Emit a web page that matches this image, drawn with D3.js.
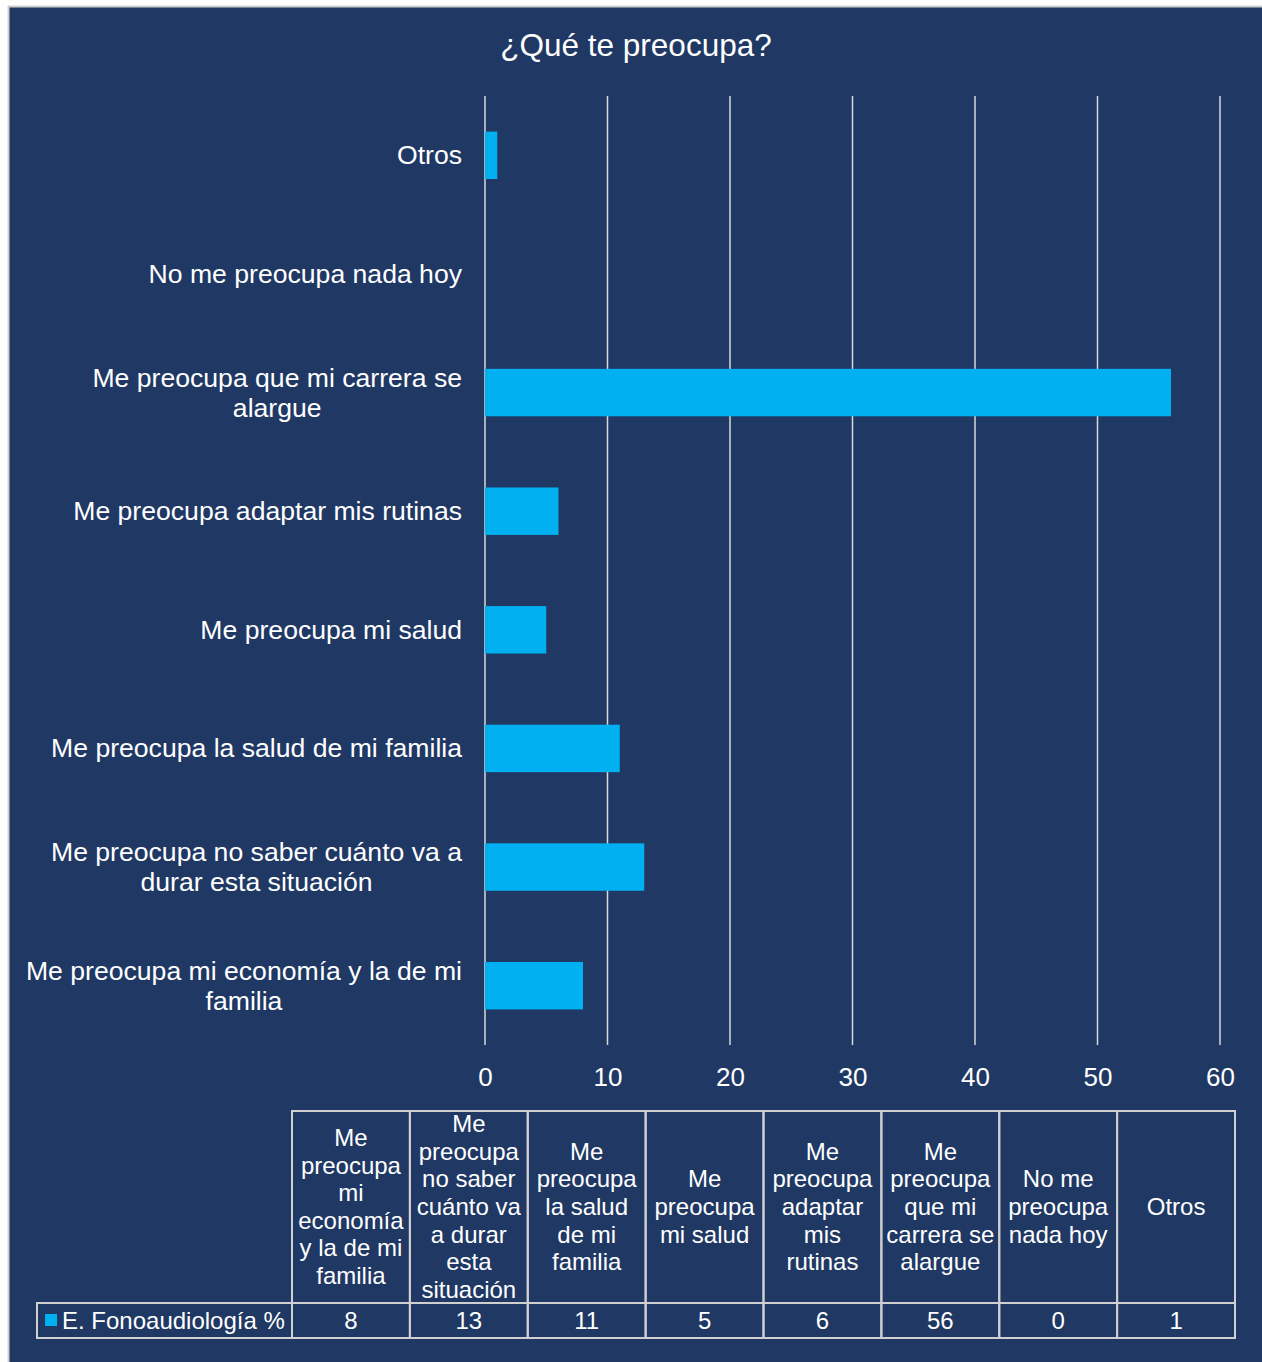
<!DOCTYPE html>
<html><head><meta charset="utf-8">
<script src="https://cdn.jsdelivr.net/npm/d3@7"></script>
<style>body{margin:0;background:#fff}svg{display:block}text{font-family:"Liberation Sans",Arial,sans-serif;fill:#fff}</style>
</head><body><svg id="c" width="1262" height="1362"></svg>
<script>
const categories = ["Me preocupa mi economía y la de mi familia","Me preocupa no saber cuánto va a durar esta situación","Me preocupa la salud de mi familia","Me preocupa mi salud","Me preocupa adaptar mis rutinas","Me preocupa que mi carrera se alargue","No me preocupa nada hoy","Otros"];
const values = [8,13,11,5,6,56,0,1];
const seriesName = "E. Fonoaudiología %";
const xTicks = [0,10,20,30,40,50,60];
const title = "¿Qué te preocupa?";

const svg = d3.select("#c");
const bg = "#203864", barColor = "#00b0f0", grid = "#d9d9d9";
svg.append("rect").attr("x",8.5).attr("y",6.5).attr("width",1262).attr("height",1362).attr("fill",bg).attr("stroke","#cfcfcf").attr("stroke-width",2);

svg.append("text").attr("x",636).attr("y",56).attr("text-anchor","middle").attr("font-size",31.5).text(title);

const x = d3.scaleLinear().domain([0,60]).range([485,1220]);
const y = d3.scaleBand().domain(categories.slice().reverse()).range([96,1045]).paddingInner(0.6).paddingOuter(0.3);

svg.append("g").selectAll("line").data(xTicks).join("line")
  .attr("x1",d=>x(d)).attr("x2",d=>x(d)).attr("y1",96).attr("y2",1045)
  .attr("stroke",grid).attr("stroke-width",1.5);

svg.append("g").selectAll("rect").data(categories.map((c,i)=>({c,v:values[i]}))).join("rect")
  .attr("x",x(0)).attr("y",d=>y(d.c)).attr("width",d=>x(d.v)-x(0)).attr("height",y.bandwidth())
  .attr("fill",barColor);

const xa = svg.append("g").attr("transform","translate(0,1045)").call(d3.axisBottom(x).tickValues(xTicks).tickSize(0).tickPadding(23));
xa.select(".domain").remove();
xa.selectAll("text").attr("font-size",26).attr("fill","#fff").style("font-family","Liberation Sans, Arial, sans-serif");

function measure(s, fs){
  const t = svg.append("text").attr("font-size",fs).attr("visibility","hidden").text(s);
  const w = t.node().getComputedTextLength(); t.remove(); return w;
}
function wrapLines(text, maxW, fs){
  const words = text.split(" "); const lines=[]; let cur="";
  for(const w of words){
    const test = cur? cur+" "+w : w;
    if(measure(test,fs)>maxW && cur){ lines.push(cur); cur=w; } else cur=test;
  }
  if(cur) lines.push(cur);
  return lines;
}

const yfs = 26.6, lh = 30;
categories.forEach(c=>{
  const lines = wrapLines(c, 442, yfs);
  const W = d3.max(lines, l=>measure(l,yfs));
  const cx = 462 - W/2;
  const cy = y(c)+y.bandwidth()/2;
  const t = svg.append("text").attr("text-anchor","middle").attr("font-size",yfs);
  lines.forEach((l,i)=>{
    t.append("tspan").attr("x",cx).attr("y",cy+(i-(lines.length-1)/2)*lh+9).text(l);
  });
});

const colX = d3.scaleBand().domain(categories).range([292,1235]);
const tTop=1111, hBot=1303, tBot=1338, legLeft=37;
const tg = svg.append("g");
const lc = "#d0d0d0";
tg.selectAll("rect.h").data(categories).join("rect").attr("class","h")
  .attr("x",d=>colX(d)).attr("y",tTop).attr("width",colX.bandwidth()).attr("height",hBot-tTop)
  .attr("fill","none").attr("stroke",lc).attr("stroke-width",2);
tg.selectAll("rect.v").data(categories).join("rect").attr("class","v")
  .attr("x",d=>colX(d)).attr("y",hBot).attr("width",colX.bandwidth()).attr("height",tBot-hBot)
  .attr("fill","none").attr("stroke",lc).attr("stroke-width",2);
tg.append("rect").attr("x",legLeft).attr("y",hBot).attr("width",292-legLeft).attr("height",tBot-hBot)
  .attr("fill","none").attr("stroke",lc).attr("stroke-width",2);

const tfs = 24, hlh = 27.6;
categories.forEach(c=>{
  const lines = wrapLines(c, 112, tfs);
  const cx = colX(c)+colX.bandwidth()/2, cy=(tTop+hBot)/2;
  const t = tg.append("text").attr("text-anchor","middle").attr("font-size",tfs);
  lines.forEach((l,i)=>{
    t.append("tspan").attr("x",cx).attr("y",cy+(i-(lines.length-1)/2)*hlh+8).text(l);
  });
});
tg.selectAll("text.val").data(values).join("text").attr("class","val")
  .attr("x",(d,i)=>colX(categories[i])+colX.bandwidth()/2).attr("y",(hBot+tBot)/2+8.5)
  .attr("text-anchor","middle").attr("font-size",tfs).text(d=>d);
tg.append("rect").attr("x",45).attr("y",1314).attr("width",12).attr("height",12).attr("fill",barColor);
tg.append("text").attr("x",62).attr("y",(hBot+tBot)/2+8.5).attr("font-size",tfs).text(seriesName);
</script></body></html>
